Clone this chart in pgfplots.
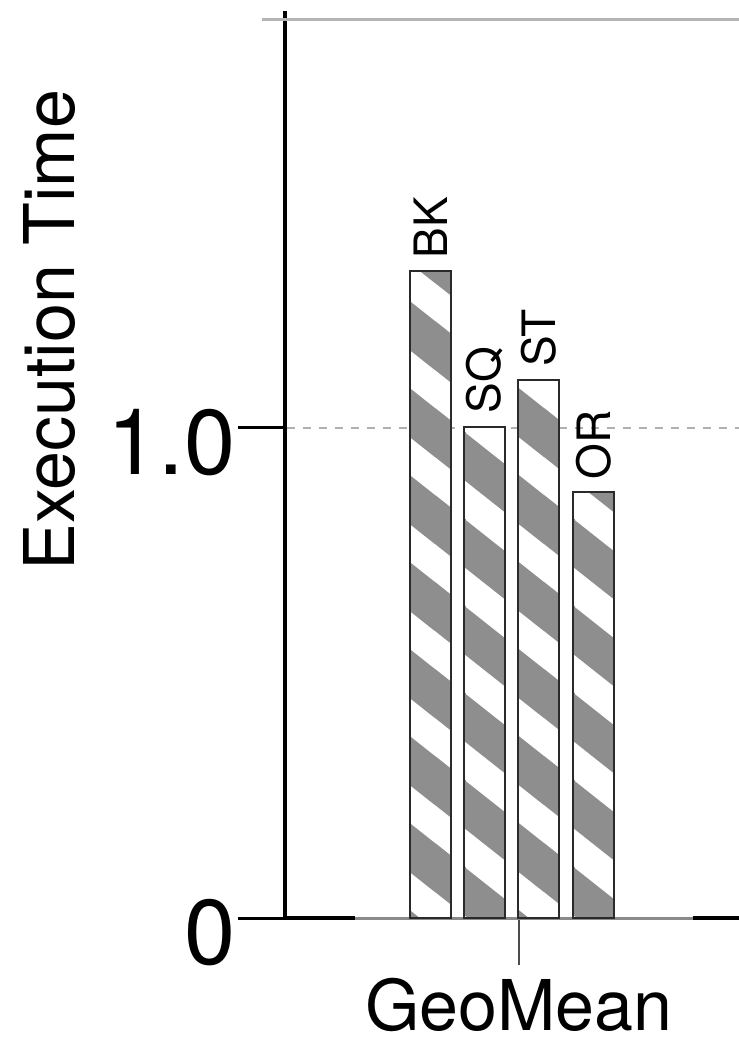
\documentclass[border=0pt]{standalone}
\usepackage{pgfplots}
\pgfplotsset{compat=1.18}
\usepackage{fontspec}
\setmainfont{TeX Gyre Heros}
\usetikzlibrary{patterns}
\definecolor{stripegray}{HTML}{8E8E8E}
\definecolor{outlinegray}{HTML}{2A2A2A}
\definecolor{dashgray}{HTML}{B0B0B0}
\definecolor{basegray}{HTML}{8A8A8A}
\definecolor{topgray}{HTML}{B4B4B4}
\pgfdeclarepatternformonly{mystripes}{\pgfpointorigin}{\pgfpoint{54.4pt}{43.5pt}}{\pgfpoint{54.4pt}{43.5pt}}{%
  \pgfsetlinewidth{19pt}%
  \pgfpathmoveto{\pgfpoint{-54.4pt}{87pt}}\pgfpathlineto{\pgfpoint{108.8pt}{-43.5pt}}%
  \pgfpathmoveto{\pgfpoint{-54.4pt}{130.5pt}}\pgfpathlineto{\pgfpoint{108.8pt}{0pt}}%
  \pgfpathmoveto{\pgfpoint{-54.4pt}{43.5pt}}\pgfpathlineto{\pgfpoint{108.8pt}{-87pt}}%
  \pgfusepath{stroke}%
}
\pgfplotstableread{
x y label
431 1.320 BK
485 1.003 SQ
539 1.098 ST
594 0.869 OR
}\bardata
\begin{document}
\begin{tikzpicture}
\useasboundingbox (-142.5pt,-61.5pt) rectangle (227pt,459pt);
\begin{axis}[
  at={(0,0)}, anchor=south west,
  scale only axis,
  width=227pt, height=453.5pt,
  xmin=285, xmax=739,
  ymin=0, ymax=1.851,
  clip=false,
  axis x line=bottom, axis y line=left,
  x axis line style={draw=none},
  y axis line style={-, line width=1.6pt, black},
  xtick={519}, xticklabels={GeoMean},
  ytick={0,1}, yticklabels={0,1.0},
  tick align=outside,
  major tick length=23.5pt,
  xtick style={line width=0.9pt, color=black!70},
  ytick style={line width=1.5pt, color=black},
  xticklabel style={font=\fontsize{35pt}{40pt}\selectfont, inner sep=0pt, yshift=-6.5pt},
  yticklabel style={font=\fontsize{46pt}{50pt}\selectfont, inner sep=1pt, yshift=-7.5pt},
  ylabel={Execution Time},
  ylabel style={font=\fontsize{35pt}{40pt}\selectfont, at={(axis description cs:-0.5176,0.6483)}, anchor=center},
]
% top gray line
\addplot[topgray, line width=1.5pt] coordinates {(262,1.833) (739,1.833)};
% dashed reference line at 1.0
\addplot[dashgray, line width=1pt, dash pattern=on 4pt off 4pt] coordinates {(287,1) (739,1)};
% x axis segments
\addplot[black, line width=1.6pt] coordinates {(285,0) (355,0)};
\addplot[black, line width=1.6pt] coordinates {(693,0) (739,0)};
\addplot[basegray, line width=1.5pt] coordinates {(355,0) (693,0)};
% bars
\addplot[ybar, bar width=41, bar shift=0,
  draw=outlinegray, line width=1pt, fill=white,
  postaction={pattern=mystripes, pattern color=stripegray},
  point meta=explicit symbolic,
  nodes near coords,
  nodes near coords style={rotate=90, anchor=west, inner xsep=6pt, inner ysep=0pt, font=\fontsize{23pt}{26pt}\selectfont, text=black},
] table[x=x, y=y, meta=label] {\bardata};
\end{axis}
\end{tikzpicture}
\end{document}
